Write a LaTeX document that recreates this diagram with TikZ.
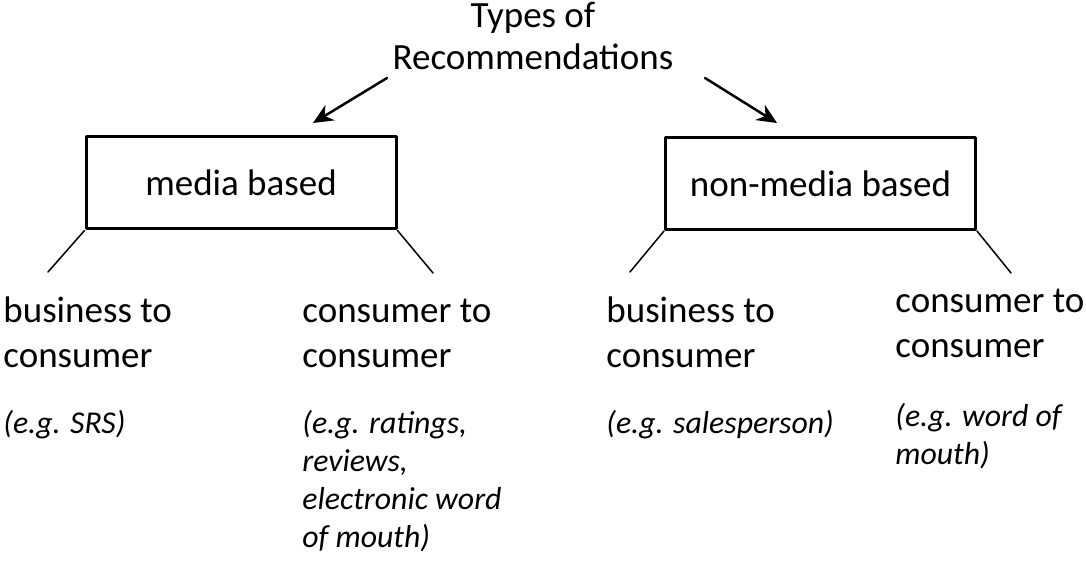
\documentclass[tikz,border=0pt]{standalone}
\usepackage{fontspec}
\setmainfont{Carlito}
\usetikzlibrary{arrows.meta}
\tikzset{>={Stealth[length=10pt,width=9pt]}}
\tikzset{
	kind/.style={draw, line width=1.5pt, inner sep=0pt, minimum width=155pt, minimum height=46pt, font=\fontsize{18.5pt}{22.5pt}\selectfont},
	leaf/.style={anchor=base west, align=left, inner sep=0pt, font=\fontsize{18.5pt}{22.5pt}\selectfont},
	example/.style={anchor=base west, align=left, inner sep=0pt, font=\fontsize{15.9pt}{19pt}\selectfont\itshape},
	branch/.style={line width=0.75pt},
	pick/.style={->, line width=1.25pt}
}

\begin{document}
\begin{tikzpicture}[x=0.5pt, y=-0.5pt, line cap=round, line join=round]
	\useasboundingbox (0,0) rectangle (1086,561);
	
	% Title (base = last line)
	\node[anchor=base, align=center, inner sep=0pt, font=\fontsize{18.5pt}{21pt}\selectfont] (title) at (533,70) {Types of\\Recommendations};
	
	% Two kinds
	\node[kind] (media) at (241,183) {media based};
	\node[kind] (nonmedia) at (820.5,183.5) {non-media based};
	
	% Arrows from the title
	\coordinate (titleL) at (387,78);
	\coordinate (titleR) at (705,78);
	\coordinate (mediaIn) at (313,123);
	\coordinate (nonmediaIn) at (777,123);
	\draw[pick] (titleL) -- (mediaIn);
	\draw[pick] (titleR) -- (nonmediaIn);
	
	% Branches
	\coordinate (bcMediaEnd) at (48,272);
	\coordinate (ccMediaEnd) at (433,273);
	\coordinate (bcNonEnd) at (630,272);
	\coordinate (ccNonEnd) at (1011,273);
	\draw[branch] (media.south west) -- (bcMediaEnd);
	\draw[branch] (media.south east) -- (ccMediaEnd);
	\draw[branch] (nonmedia.south west) -- (bcNonEnd);
	\draw[branch] (nonmedia.south east) -- (ccNonEnd);
	
	% Leaves (base = last line)
	\node[leaf] (bcMedia) at (3,367) {business to\\consumer};
	\node[leaf] (ccMedia) at (302,367) {consumer to\\consumer};
	\node[leaf] (bcNon) at (606,367) {business to\\consumer};
	\node[leaf] (ccNon) at (895,357) {consumer to\\consumer};
	
	% Examples
	\node[example] (exBcMedia) at (3,433) {(e.g. SRS)};
	\node[example] (exCcMedia) at (302,547) {(e.g. ratings,\\reviews,\\electronic word\\of mouth)};
	\node[example] (exBcNon) at (606,433) {(e.g. salesperson)};
	\node[example] (exCcNon) at (895,464) {(e.g. word of\\mouth)};
\end{tikzpicture}
\end{document}
